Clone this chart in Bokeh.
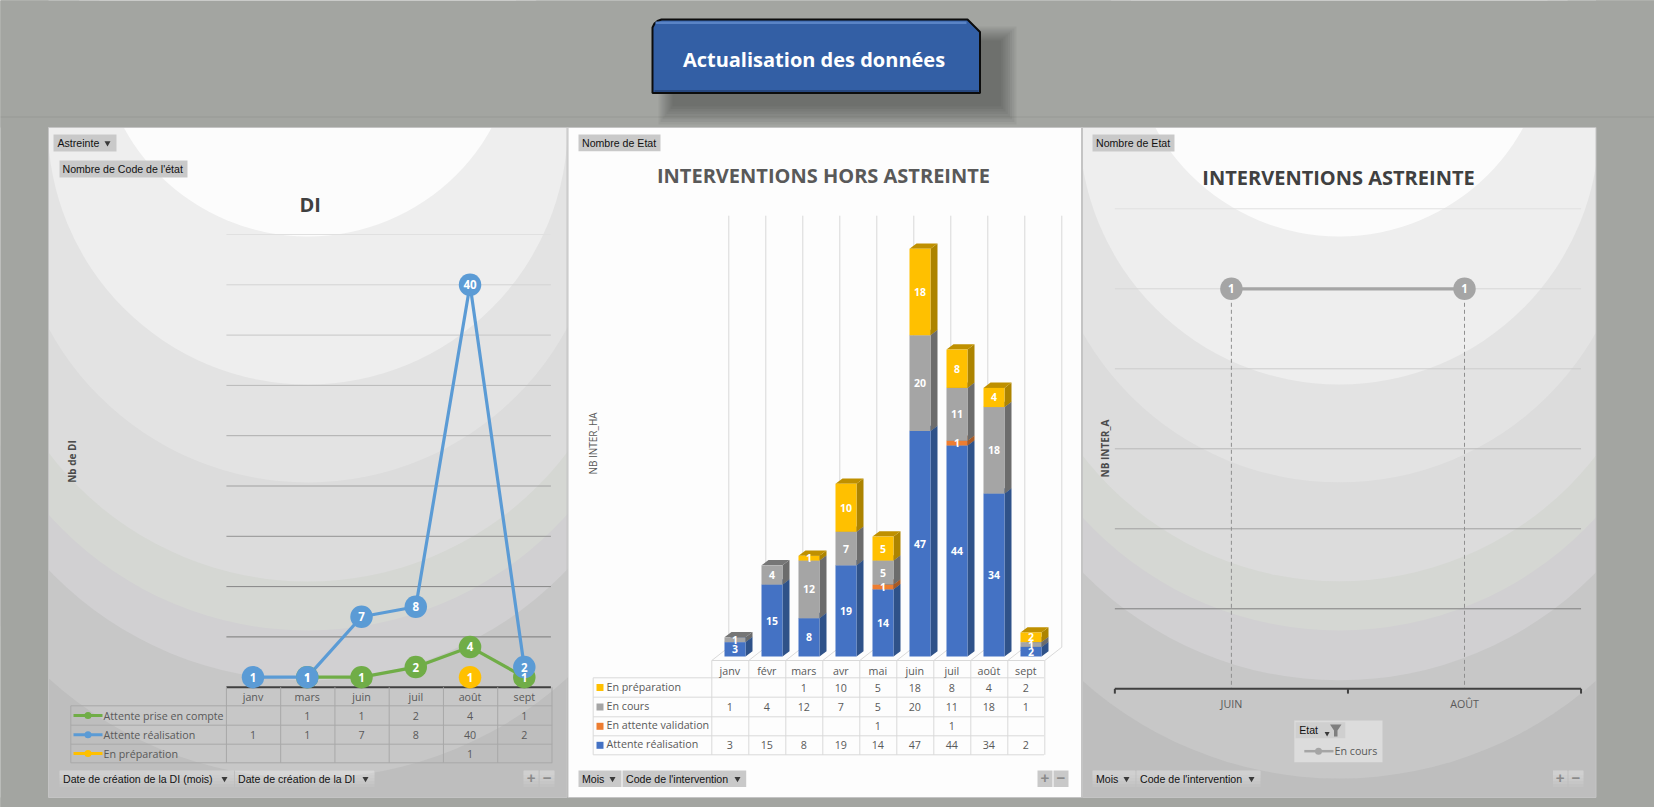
import math
import numpy as np
from bokeh.core.properties import value
from bokeh.embed import file_html
from bokeh.models import Range1d
from bokeh.plotting import figure
from bokeh.resources import INLINE

# ---------- data ----------
di_months = ["janv", "mars", "juin", "juil", "août", "sept"]
di_prise = [None, 1, 1, 2, 4, 1]
di_realisation = [1, 1, 7, 8, 40, 2]
di_preparation = [None, None, None, None, 1, None]
di_names = ["Attente prise en compte", "Attente réalisation", "En préparation"]
di_ticks = [5, 10, 15, 20, 25, 30, 35, 40, 45]

ha_months = ["janv", "févr", "mars", "avr", "mai", "juin", "juil", "août", "sept"]
ha_preparation = [None, None, 1, 10, 5, 18, 8, 4, 2]
ha_cours = [1, 4, 12, 7, 5, 20, 11, 18, 1]
ha_validation = [None, None, None, None, 1, None, 1, None, None]
ha_realisation = [3, 15, 8, 19, 14, 47, 44, 34, 2]
ha_names = ["En préparation", "En cours", "En attente validation", "Attente réalisation"]

a_months = ["JUIN", "AOÛT"]
a_cours = [1, 1]
a_ticks = [0.2, 0.4, 0.6, 0.8, 1.0, 1.2]

# ---------- page geometry ----------
W, H = 1654, 807
LEFT, RIGHT, TOP, BOTTOM = 0, W, 0, H
BG = "#a3a5a1"
UI = "Open Sans"
BTN = "Liberation Sans"
GREEN, BLUE, YELLOW, GREY, ORANGE, DBLUE = "#70AD47", "#5B9BD5", "#FFC000", "#A5A5A5", "#ED7D31", "#4472C4"

p = figure(width=W, height=H, output_backend="svg", toolbar_location=None,
           x_range=Range1d(LEFT, RIGHT), y_range=Range1d(BOTTOM, TOP),
           x_axis_location=None, y_axis_location=None, min_border=0)
p.grid.visible = False
p.outline_line_color = None
p.background_fill_color = BG
p.border_fill_color = BG


def add_x(name, p0, v0, p1, v1):
    s = (v1 - v0) / (p1 - p0)
    p.extra_x_ranges[name] = Range1d(v0 + (LEFT - p0) * s, v0 + (RIGHT - p0) * s)


def add_y(name, p0, v0, p1, v1):
    s = (v1 - v0) / (p1 - p0)
    p.extra_y_ranges[name] = Range1d(v0 + (BOTTOM - p0) * s, v0 + (TOP - p0) * s)


def txt(x, y, s, size=10.7, color="#595959", bold=False, align="center", angle=0, font=UI,
        xr="default", yr="default"):
    p.text(x=[x], y=[y], text=[s], text_font=value(font), text_font_size=f"{size}px",
           text_font_style="bold" if bold else "normal", text_color=color, text_align=align,
           text_baseline="middle", angle=angle, x_range_name=xr, y_range_name=yr)


def box(l, r, t, b, fill, alpha=1.0, line=None, lw=1):
    p.quad(left=[l], right=[r], top=[t], bottom=[b], fill_color=fill, fill_alpha=alpha,
           line_color=line, line_width=lw)


def hline(x0, x1, y, color, lw=1, xr="default", yr="default", dash="solid"):
    p.segment(x0=[x0], x1=[x1], y0=[y], y1=[y], line_color=color, line_width=lw, line_dash=dash,
              x_range_name=xr, y_range_name=yr)


def vline(x, y0, y1, color, lw=1, xr="default", yr="default", dash="solid"):
    p.segment(x0=[x], x1=[x], y0=[y0], y1=[y1], line_color=color, line_width=lw, line_dash=dash,
              x_range_name=xr, y_range_name=yr)


def tri(x, y, size=6, color="#3a3a3a"):
    p.scatter(x=[x], y=[y], marker="inverted_triangle", size=size, fill_color=color, line_color=None)


def top_button(l, r, t, b, label, tx, arrow=None):
    box(l, r, t, b, "#c9c9c9")
    txt(tx, (t + b) / 2, label, 10.6, "#111111", align="left", font=BTN)
    if arrow:
        tri(arrow, (t + b) / 2, 6)


def bottom_button(l, r, label, tx, arrow, solid):
    t, b = 770, 786.5
    if solid:
        box(l, r, t, b, "#c9c9c9")
    else:
        for k in range(5):
            box(l, r, t, b - k * 3, "#ffffff", 0.07)
    txt(tx, (t + b) / 2, label, 10.6, "#111111", align="left", font=BTN)
    tri(arrow, (t + b) / 2, 6)


def plus_minus(x0, x1, x2, solid):
    t, b = 770, 786.5
    for l, r, s in ((x0, x1 - 0.5, "+"), (x1 + 0.5, x2, "−")):
        if solid:
            box(l, r, t, b, "#c9c9c9")
        else:
            for k in range(5):
                box(l, r, t, b - k * 3, "#ffffff", 0.07)
        txt((l + r) / 2, (t + b) / 2 - 0.5, s, 15, "#8a8a8a", bold=True, font=BTN)


# ---------- panel backgrounds (concentric shaded discs) ----------
P1 = (48, 566.5)
P2 = (567.5, 1081)
P3 = (1082, 1595.5)
PT, PB = 127, 797
band_cy = [392, 321, 282, 256, 187, 124, 26]
band_r = [386, 359, 348, 325, 295, 260, 210]
band_col = ["#c7c7c7", "#d1d0d2", "#d5d7d3", "#dcdcdc", "#e3e3e3", "#eeeeee", "#fcfcfc"]
for (l, r) in (P1, P3):
    box(l, r, PT, PB, "#bebebe")
    p.circle(x=[(l + r) / 2] * 7, y=band_cy, radius=band_r, fill_color=band_col, line_color=None)
box(P2[0], P2[1], PT, PB, "#fdfdfd")
# page strips over the overflow of the discs
box(LEFT - 5, P1[0], TOP - 5, BOTTOM + 5, BG)
box(P3[1], RIGHT + 5, TOP - 5, BOTTOM + 5, BG)
box(LEFT - 5, RIGHT + 5, TOP - 5, PT, BG)
box(LEFT - 5, RIGHT + 5, PB, BOTTOM + 5, BG)
for (l, r) in (P1, P2, P3):
    p.quad(left=[l], right=[r], top=[PT], bottom=[PB], fill_color=None, line_color="#c4c4c4", line_width=1)

# ---------- header ----------
hline(LEFT, RIGHT, 116.5, "#979995")
for k in range(8):
    box(658 + k * 2, 1016 - k * 2.2, 26 + k * 2, 124 - k * 2.6, "#202020", 0.06)
p.patch(x=[652, 652, 654, 657, 661, 967, 979.5, 979.5, 652],
        y=[92.5, 27, 23, 20.5, 19, 19, 31.5, 92.5, 92.5],
        fill_color="#335FA5", line_color="#0c0c0c", line_width=2)
box(655, 966, 21, 23.5, "#5a84c6")
box(654, 978, 89.5, 91.5, "#26477f")
txt(813.5, 59, "Actualisation des données", 20, "#ffffff", bold=True)

# ---------- chart 1: DI ----------
add_x("c1x", 252.5, 0, 523.8, 5)
add_y("c1y", 686.7, 0, 284.3, 40)
grey_levels = np.linspace(122, 224, len(di_ticks)).astype(int)
p.segment(x0=[-0.49] * len(di_ticks), x1=[5.49] * len(di_ticks), y0=di_ticks, y1=di_ticks,
          line_color=[f"#{g:02x}{g:02x}{g:02x}" for g in grey_levels], line_width=1,
          x_range_name="c1x", y_range_name="c1y")
hline(-0.49, 5.49, 0, "#404040", 2, "c1x", "c1y")

idx1 = list(range(len(di_months)))
series1 = [(di_prise, GREEN), (di_realisation, BLUE), (di_preparation, YELLOW)]
for vals, col in series1:
    ys = [float("nan") if v is None else v for v in vals]
    p.line(x=idx1, y=ys, line_color=col, line_width=3.2, x_range_name="c1x", y_range_name="c1y")
for vals, col in series1:
    xs = [i for i, v in zip(idx1, vals) if v is not None]
    ys = [v for v in vals if v is not None]
    p.scatter(x=xs, y=ys, size=22.5, marker="circle", fill_color=col, line_color=None,
              x_range_name="c1x", y_range_name="c1y")
for vals, col in series1:
    for i, v in zip(idx1, vals):
        if v is not None:
            txt(i, v, str(v), 11.5, "#ffffff", bold=True, xr="c1x", yr="c1y")

txt(309.7, 204, "DI", 20, "#404040", bold=True)
txt(71.7, 461, "Nb de DI", 10, "#4a4a4a", bold=True, angle=math.pi / 2)
top_button(53, 116, 134, 151, "Astreinte", 57, 107)
top_button(59, 187, 160, 177, "Nombre de Code de l'état", 62)

# table 1
T1 = "#a8a8a8"
row1 = [705.3, 724.7, 743.7, 762.3]
for y in row1[1:]:
    hline(70.3, 551.7, y, T1)
hline(70.3, 551.7, 705.3, T1)
vline(70.3, 705.3, 762.3, T1)
for i in range(len(di_months) + 1):
    vline(i - 0.5 + 0.01, 686.7, 762.3, T1, xr="c1x")
for i, m in enumerate(di_months):
    txt(i, 696.5, m, xr="c1x")
for r, (name, (vals, col)) in enumerate(zip(di_names, series1)):
    yc = (row1[r] + row1[r + 1]) / 2
    hline(73, 102, yc, col, 3)
    p.scatter(x=[87.5], y=[yc], size=7, marker="circle", fill_color=col, line_color=None)
    txt(103, yc, name, align="left")
    for i, v in zip(idx1, vals):
        if v is not None:
            txt(i, yc, str(v), xr="c1x")
bottom_button(59, 233.5, "Date de création de la DI (mois)", 62.5, 224, False)
bottom_button(234.5, 374, "Date de création de la DI", 237.5, 365, False)
plus_minus(523, 538.6, 554, False)

# ---------- chart 2: INTERVENTIONS HORS ASTREINTE ----------
add_x("c2x", 734.5, 0, 1030.5, 8)
add_y("c2y", 656, 0, 248.3, 85)
n2 = len(ha_months)
WALL = "#d9d9d9"
front_x = [i - 0.627 for i in range(n2 + 1)]
back_x = [i - 0.168 for i in range(n2 + 1)]
p.segment(x0=back_x, x1=back_x, y0=[1.94] * (n2 + 1), y1=[91.9] * (n2 + 1), line_color=WALL,
          x_range_name="c2x", y_range_name="c2y")
p.segment(x0=front_x, x1=back_x, y0=[-0.83] * (n2 + 1), y1=[1.94] * (n2 + 1), line_color=WALL,
          x_range_name="c2x", y_range_name="c2y")

BW, DX, DY = 0.568, 0.189, 1.1
stack = [(ha_realisation, DBLUE, "#2F5289", "#2F5289"),
         (ha_validation, ORANGE, "#A85A24", "#A85A24"),
         (ha_cours, GREY, "#6C6C6C", "#767676"),
         (ha_preparation, YELLOW, "#AD8400", "#BF9000")]
base = [0.0] * n2
labels2 = []
for vals, col, side, cap in stack:
    xs, bs, ts = [], [], []
    for i, v in enumerate(vals):
        if v is not None:
            xs.append(i)
            bs.append(base[i])
            ts.append(base[i] + v)
            labels2.append((i, base[i] + v / 2, v))
            base[i] += v
    p.patches(xs=[[x + BW / 2, x + BW / 2 + DX, x + BW / 2 + DX, x + BW / 2] for x in xs],
              ys=[[b, b + DY, t + DY, t] for b, t in zip(bs, ts)],
              fill_color=side, line_color=None, x_range_name="c2x", y_range_name="c2y")
    p.patches(xs=[[x - BW / 2, x - BW / 2 + DX, x + BW / 2 + DX, x + BW / 2] for x in xs],
              ys=[[t, t + DY, t + DY, t] for t in ts],
              fill_color=cap, line_color=None, x_range_name="c2x", y_range_name="c2y")
    p.vbar(x=xs, bottom=bs, top=ts, width=BW, fill_color=col, line_color=None,
           x_range_name="c2x", y_range_name="c2y")
for i, y, v in labels2:
    txt(i, y, str(v), 10.5, "#ffffff", bold=True, xr="c2x", yr="c2y")

txt(823, 175, "INTERVENTIONS HORS ASTREINTE", 20, "#595959", bold=True)
txt(592.7, 443, "NB INTER_HA", 10, "#595959", angle=math.pi / 2)
top_button(578, 660, 134, 150.7, "Nombre de Etat", 581.5)

# table 2
T2 = "#d9d9d9"
row2 = [677.3, 696.7, 716.3, 735.3, 754.3]
cols2 = [i - 0.627 for i in range(n2 + 1)]
hline(cols2[0], cols2[-1], 660, T2, 1, "c2x")
for y in row2:
    hline(592.7, 1043.5, y, T2)
vline(592.7, 677.3, 754.3, T2)
p.segment(x0=cols2, x1=cols2, y0=[660] * (n2 + 1), y1=[754.3] * (n2 + 1), line_color=T2, x_range_name="c2x")
table2 = [(ha_preparation, YELLOW), (ha_cours, GREY), (ha_validation, ORANGE), (ha_realisation, DBLUE)]
for i, m in enumerate(ha_months):
    txt(i - 0.14, 670.3, m, xr="c2x")
for r, (name, (vals, col)) in enumerate(zip(ha_names, table2)):
    yc = (row2[r] + row2[r + 1]) / 2
    box(596, 603, yc - 3.5, yc + 3.5, col)
    txt(606, yc - 1, name, align="left")
    for i, v in enumerate(vals):
        if v is not None:
            txt(i - 0.14, yc, str(v), xr="c2x")
bottom_button(578, 621, "Mois", 581.5, 612, True)
bottom_button(622, 745.7, "Code de l'intervention", 625.5, 737, True)
plus_minus(1037, 1052.5, 1068, True)

# ---------- chart 3: INTERVENTIONS ASTREINTE ----------
add_x("c3x", 1230.9, 0, 1464, 1)
add_y("c3y", 688.3, 0, 288.3, 1)
grey3 = ["#7f7f7f", "#a0a0a0", "#b8b8b8", "#cccccc", "#d6d6d6", "#e0e0e0"]
p.segment(x0=[-0.5] * 6, x1=[1.5] * 6, y0=a_ticks, y1=a_ticks, line_color=grey3,
          x_range_name="c3x", y_range_name="c3y")
idx3 = list(range(len(a_months)))
p.segment(x0=idx3, x1=idx3, y0=a_cours, y1=[0] * 2, line_color="#8f8f8f", line_dash="4 3",
          x_range_name="c3x", y_range_name="c3y")
hline(-0.5, 1.5, 0, "#404040", 2, "c3x", "c3y")
p.segment(x0=[-0.5, 0.5, 1.5], x1=[-0.5, 0.5, 1.5], y0=[0] * 3, y1=[-0.012] * 3, line_color="#404040",
          line_width=2, x_range_name="c3x", y_range_name="c3y")
p.line(x=idx3, y=a_cours, line_color=GREY, line_width=3.2, x_range_name="c3x", y_range_name="c3y")
p.scatter(x=idx3, y=a_cours, size=22.5, marker="circle", fill_color=GREY, line_color=None,
          x_range_name="c3x", y_range_name="c3y")
for i, v in zip(idx3, a_cours):
    txt(i, v, str(v), 11.5, "#ffffff", bold=True, xr="c3x", yr="c3y")
for i, m in enumerate(a_months):
    txt(i, 703, m, xr="c3x")

txt(1338, 177, "INTERVENTIONS ASTREINTE", 20, "#404040", bold=True)
txt(1104.8, 448, "NB INTER_A", 10, "#4a4a4a", bold=True, angle=math.pi / 2)
top_button(1092, 1174, 134, 151, "Nombre de Etat", 1095.5)

# legend box
box(1293.8, 1382, 720, 761.7, "#dcdcdc")
box(1295, 1344.8, 721.7, 737.7, "#cfcfcf")
txt(1298.7, 729.5, "Etat", 10.6, "#111111", align="left", font=BTN)
tri(1326.6, 733, 5)
p.patch(x=[1329.5, 1341, 1337, 1337, 1333.5, 1333.5], y=[724, 724, 730, 736, 736, 730],
        fill_color="#7f7f7f", line_color=None)
hline(1303.8, 1333, 750.7, GREY, 2.5)
p.scatter(x=[1318], y=[750.7], size=7, marker="circle", fill_color=GREY, line_color=None)
txt(1334, 750.7, "En cours", align="left")
bottom_button(1092, 1135, "Mois", 1095.5, 1126, False)
bottom_button(1135.8, 1260, "Code de l'intervention", 1139.5, 1251, False)
plus_minus(1552.4, 1567.5, 1583, False)

open("out.html", "w").write(file_html(p, INLINE, title="Tableau de bord"))
